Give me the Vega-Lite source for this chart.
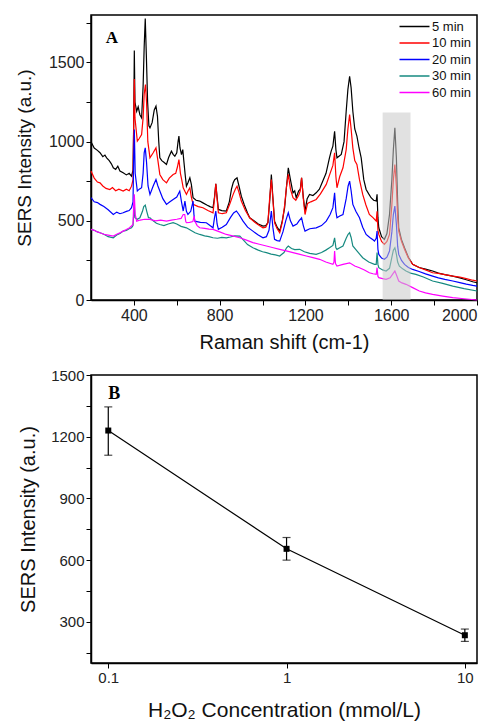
{
  "$schema": "https://vega.github.io/schema/vega-lite/v6.json",
  "background": "white",
  "padding": {"left": 14, "top": 14, "right": 5, "bottom": 5},
  "spacing": 14,
  "config": {
    "view": {"stroke": "black", "strokeWidth": 1.5},
    "axis": {
      "grid": false,
      "domainColor": "black",
      "domainWidth": 1.5,
      "tickColor": "black",
      "tickSize": 5,
      "labelColor": "#222",
      "titleColor": "#111",
      "labelFont": "Liberation Sans",
      "titleFont": "Liberation Sans",
      "labelFontSize": 15,
      "titleFontSize": 19,
      "titleFontWeight": "normal",
      "labelOverlap": false
    }
  },
  "vconcat": [
    {
      "width": 386,
      "height": 285,
      "layer": [
        {
          "data": {"values": [
            {"s": "5 min",
             "x": [200,215,230,242,255,265,273,285,295,304,315,325,335,350,365,378,389,396,399,402,405,413,420,428,436,443,448,453,458,464,470,475,485,495,503,510,516,521,530,540,552,562,575,583,591,600,606,610,615,622,628,633,640,645,652,661,668,676,690,707,720,740,755,769,776,782,788,794,810,831,845,855,863,870,881,890,901,915,930,940,960,980,1002,1015,1025,1033,1041,1048,1056,1068,1080,1092,1103,1112,1120,1130,1142,1150,1157,1168,1176,1182,1190,1198,1208,1219,1235,1250,1265,1281,1296,1312,1320,1328,1336,1342,1347,1358,1367,1380,1390,1398,1406,1413,1421,1430,1440,1450,1460,1472,1483,1495,1506,1518,1530,1534,1538,1542,1555,1568,1580,1592,1603,1610,1617,1624,1630,1635,1648,1662,1680,1700,1730,1760,1793,1820,1850,1887,1920,1950,1980,2000],
             "y": [1000,960,945,930,905,915,898,880,860,835,825,845,815,803,790,800,782,820,1100,1575,1250,1192,1220,1170,1150,1350,1600,1777,1550,1250,1100,1087,1120,1200,1224,1160,1000,898,880,870,856,900,940,920,908,930,1000,1035,960,919,950,877,780,719,740,772,730,646,630,625,615,600,590,583,650,734,650,572,565,562,620,700,740,760,772,720,656,600,550,519,500,480,467,470,488,620,793,650,498,460,435,500,583,720,835,760,677,690,646,688,700,772,650,562,640,667,660,677,700,751,800,898,940,972,1066,950,898,910,919,1000,1192,1330,1413,1340,1192,1080,1035,960,898,760,698,670,646,630,625,667,520,456,400,383,420,540,760,950,1087,900,620,456,380,330,270,225,205,195,183,170,160,151,140,128,115,109]},
            {"s": "10 min",
             "x": [200,215,230,242,255,270,288,300,315,330,350,365,378,389,396,399,402,405,416,425,436,443,448,454,459,465,475,490,503,512,521,535,552,565,583,595,603,610,617,623,630,645,653,661,668,676,700,722,745,769,776,782,788,794,812,831,848,863,873,881,890,901,920,940,965,985,1002,1015,1025,1033,1041,1048,1056,1068,1080,1092,1103,1112,1120,1130,1142,1155,1168,1176,1182,1190,1198,1210,1225,1250,1270,1297,1315,1328,1336,1342,1347,1360,1375,1390,1398,1406,1413,1421,1430,1440,1452,1467,1482,1498,1515,1530,1534,1538,1542,1555,1568,1580,1592,1603,1610,1617,1624,1630,1635,1648,1662,1680,1700,1730,1760,1793,1820,1850,1887,1920,1950,1980,2000],
             "y": [814,770,745,740,720,705,698,710,690,700,688,700,690,719,760,1100,1396,1150,1003,1020,1045,1150,1300,1361,1250,1000,898,930,961,880,793,760,740,770,793,800,840,887,800,760,709,667,690,709,650,604,590,583,565,551,640,734,640,551,545,551,610,667,700,719,680,625,565,519,490,470,456,460,490,640,761,640,488,450,425,490,600,720,793,700,646,630,660,690,772,640,540,610,620,635,670,730,800,850,930,780,709,780,835,950,1080,1171,1080,961,880,856,760,667,600,540,520,498,560,440,414,370,351,370,414,600,760,856,720,520,435,370,320,265,225,205,190,172,168,160,151,145,135,125,120]},
            {"s": "20 min",
             "x": [200,215,230,242,260,280,304,320,335,350,365,378,389,396,399,402,406,416,425,436,443,448,453,459,466,475,490,503,512,521,535,552,568,583,600,614,622,630,638,645,652,665,676,680,684,710,738,755,769,776,782,788,794,812,831,850,865,878,890,909,930,955,980,1002,1018,1030,1041,1048,1056,1068,1080,1095,1108,1120,1130,1142,1160,1170,1182,1190,1198,1220,1250,1275,1297,1315,1328,1336,1342,1347,1360,1375,1390,1399,1406,1413,1421,1435,1452,1467,1483,1500,1515,1522,1530,1534,1538,1542,1555,1568,1580,1592,1603,1610,1617,1624,1630,1635,1648,1662,1680,1700,1730,1760,1793,1820,1850,1887,1920,1950,1980,2000],
             "y": [646,620,615,604,590,570,540,555,545,551,560,565,583,620,900,1077,800,688,700,709,800,930,961,870,720,667,720,761,720,688,640,604,620,635,650,688,620,562,625,560,540,560,625,540,498,490,488,470,456,520,562,480,446,460,477,520,550,562,540,498,460,435,410,393,400,440,562,460,383,375,372,430,500,551,500,467,480,500,519,470,435,450,456,470,498,540,583,677,560,519,530,540,640,720,751,690,604,560,519,460,414,395,380,372,390,435,320,288,265,257,270,309,430,540,593,480,340,288,250,225,205,193,180,165,151,140,130,120,110,100,92,88]},
            {"s": "30 min",
             "x": [200,215,230,242,260,280,304,320,335,350,365,378,389,396,400,402,405,416,428,440,446,453,460,468,475,490,505,521,540,560,583,600,620,645,665,685,707,730,750,769,790,810,831,850,870,894,910,930,955,980,1000,1018,1040,1060,1080,1100,1112,1120,1135,1150,1173,1195,1220,1250,1275,1295,1312,1328,1336,1342,1347,1360,1375,1390,1399,1406,1413,1421,1440,1467,1495,1522,1530,1534,1538,1542,1560,1576,1592,1603,1610,1617,1624,1630,1638,1655,1669,1690,1715,1750,1793,1840,1887,1940,2000],
             "y": [446,440,430,425,415,400,393,410,420,435,440,450,456,470,560,600,520,510,519,560,590,599,560,520,519,500,485,477,470,480,488,480,465,456,440,425,414,405,400,393,390,395,393,398,405,404,380,350,330,315,305,299,290,285,278,300,330,341,325,318,320,305,295,288,300,315,330,345,393,330,320,330,341,390,415,425,395,341,310,267,240,225,225,299,225,204,190,183,200,270,315,330,290,240,214,195,183,170,162,145,120,105,88,72,57]},
            {"s": "60 min",
             "x": [200,215,230,242,260,280,304,320,335,350,365,378,389,396,399,402,406,413,430,450,475,500,525,552,575,600,620,630,637,642,645,660,675,681,684,695,707,730,750,769,800,831,860,894,925,955,985,1018,1050,1080,1110,1142,1170,1204,1235,1266,1295,1328,1333,1336,1340,1347,1375,1406,1430,1452,1475,1498,1515,1530,1534,1538,1542,1560,1576,1595,1610,1617,1624,1635,1650,1669,1700,1731,1760,1793,1840,1887,1940,2000],
             "y": [446,440,430,425,415,410,404,415,425,435,445,455,467,480,600,667,540,498,505,510,509,500,505,498,505,510,515,540,540,495,488,490,495,530,498,470,456,452,448,446,430,414,405,393,378,362,352,341,330,320,310,299,290,278,268,257,240,225,240,309,230,214,225,235,215,204,190,172,166,162,204,150,141,135,130,140,170,183,160,120,108,99,78,57,45,36,25,15,8,0]}
          ]},
          "transform": [{"flatten": ["x", "y"]}],
          "mark": {"type": "line", "strokeWidth": 1.2, "interpolate": "linear"},
          "encoding": {
            "x": {
              "field": "x", "type": "quantitative",
              "scale": {"domain": [200, 2000], "nice": false},
              "axis": {
                "title": "Raman shift (cm-1)",
                "titleFontSize": 20,
                "values": [400, 600, 800, 1000, 1200, 1400, 1600, 1800, 2000],
                "tickCount": 30,
                "labelExpr": "datum.value % 400 == 0 ? datum.value : ''",
                "labelFontSize": 16,
                "titlePadding": 9
              }
            },
            "y": {
              "field": "y", "type": "quantitative",
              "scale": {"domain": [0, 1800], "nice": false},
              "axis": {
                "title": "SERS Intensity (a.u.)",
                "values": [0, 250, 500, 750, 1000, 1250, 1500, 1750],
                "tickCount": 30,
                "labelExpr": "datum.value % 500 == 0 ? datum.value : ''",
                "labelFontSize": 16,
                "titlePadding": 14
              }
            },
            "color": {
              "field": "s", "type": "nominal",
              "scale": {
                "domain": ["5 min", "10 min", "20 min", "30 min", "60 min"],
                "range": ["#000000", "#ff0000", "#0000ff", "#168a80", "#ff00ff"]
              },
              "legend": {
                "title": null,
                "orient": "none",
                "legendX": 305,
                "legendY": 3,
                "symbolType": "M-1,0H5",
                "symbolSize": 100,
                "symbolStrokeWidth": 1.5,
                "labelFont": "Liberation Sans",
                "labelFontSize": 13,
                "labelColor": "#111",
                "labelOffset": 21,
                "rowPadding": 2.5,
                "padding": 2
              }
            }
          }
        },
        {
          "data": {"values": [{"x1": 1560, "x2": 1690, "y1": 0, "y2": 1185}]},
          "mark": {"type": "rect", "color": "#c8c8c8", "opacity": 0.55},
          "encoding": {
            "x": {"field": "x1", "type": "quantitative"},
            "x2": {"field": "x2"},
            "y": {"field": "y1", "type": "quantitative"},
            "y2": {"field": "y2"}
          }
        },
        {
          "data": {"values": [{"x": 298, "y": 1657, "t": "A"}]},
          "mark": {"type": "text", "font": "Liberation Serif", "fontWeight": "bold", "fontSize": 17, "color": "black"},
          "encoding": {
            "x": {"field": "x", "type": "quantitative"},
            "y": {"field": "y", "type": "quantitative"},
            "text": {"field": "t"}
          }
        }
      ]
    },
    {
      "width": 386,
      "height": 288,
      "data": {"values": [
        {"c": 0.1, "v": 1230, "lo": 1110, "hi": 1345},
        {"c": 1, "v": 655, "lo": 600, "hi": 710},
        {"c": 10, "v": 235, "lo": 205, "hi": 265}
      ]},
      "layer": [
        {
          "mark": {"type": "line", "color": "black", "strokeWidth": 1.2, "interpolate": "linear"},
          "encoding": {
            "x": {
              "field": "c", "type": "quantitative",
              "scale": {"type": "log", "domain": [0.08, 11.7], "nice": false},
              "axis": {
                "title": "H₂O₂ Concentration (mmol/L)",
                "titleFontSize": 21,
                "values": [0.1, 1, 10],
                "tickCount": 30,
                "format": "~g",
                "labelFontSize": 15,
                "titlePadding": 14
              }
            },
            "y": {
              "field": "v", "type": "quantitative",
              "scale": {"domain": [100, 1500], "nice": false},
              "axis": {
                "title": "SERS Intensity (a.u.)",
                "titleFontSize": 20,
                "values": [150, 300, 450, 600, 750, 900, 1050, 1200, 1350, 1500],
                "tickCount": 30,
                "labelExpr": "datum.value % 300 == 0 ? datum.value : ''",
                "labelFontSize": 15,
                "titlePadding": 12
              }
            }
          }
        },
        {
          "mark": {"type": "rule", "color": "black", "strokeWidth": 1.2},
          "encoding": {
            "x": {"field": "c", "type": "quantitative", "title": "H₂O₂ Concentration (mmol/L)"},
            "y": {"field": "lo", "type": "quantitative", "title": "SERS Intensity (a.u.)"},
            "y2": {"field": "hi"}
          }
        },
        {
          "mark": {"type": "tick", "orient": "horizontal", "color": "black", "thickness": 1.2, "size": 8},
          "encoding": {
            "x": {"field": "c", "type": "quantitative", "title": "H₂O₂ Concentration (mmol/L)"},
            "y": {"field": "lo", "type": "quantitative", "title": "SERS Intensity (a.u.)"}
          }
        },
        {
          "mark": {"type": "tick", "orient": "horizontal", "color": "black", "thickness": 1.2, "size": 8},
          "encoding": {
            "x": {"field": "c", "type": "quantitative", "title": "H₂O₂ Concentration (mmol/L)"},
            "y": {"field": "hi", "type": "quantitative", "title": "SERS Intensity (a.u.)"}
          }
        },
        {
          "mark": {"type": "point", "shape": "square", "filled": true, "color": "black", "size": 36, "opacity": 1},
          "encoding": {
            "x": {"field": "c", "type": "quantitative", "title": "H₂O₂ Concentration (mmol/L)"},
            "y": {"field": "v", "type": "quantitative", "title": "SERS Intensity (a.u.)"}
          }
        },
        {
          "data": {"values": [{"c": 0.108, "v": 1408, "t": "B"}]},
          "mark": {"type": "text", "font": "Liberation Serif", "fontWeight": "bold", "fontSize": 18, "color": "black"},
          "encoding": {
            "x": {"field": "c", "type": "quantitative", "title": "H₂O₂ Concentration (mmol/L)"},
            "y": {"field": "v", "type": "quantitative", "title": "SERS Intensity (a.u.)"},
            "text": {"field": "t"}
          }
        }
      ]
    }
  ]
}
